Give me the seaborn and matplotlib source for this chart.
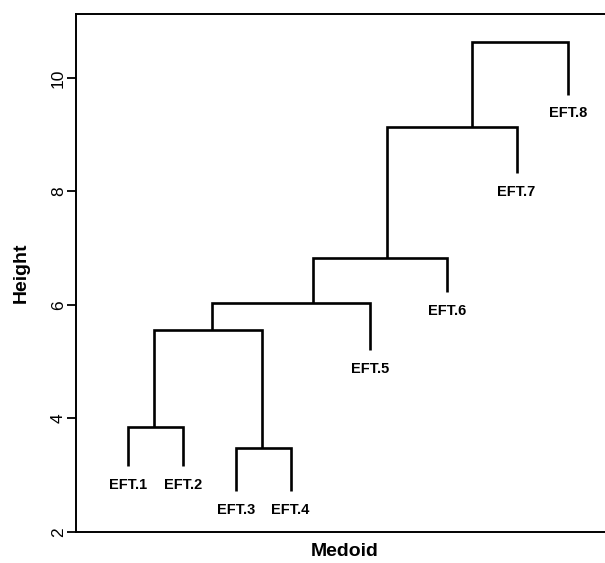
import numpy as np
import pandas as pd
import matplotlib
matplotlib.use("Agg")
from matplotlib import pyplot as plt
import seaborn as sns

# leaves (left to right) and where their hanging lines end
leaves = ["EFT.1", "EFT.2", "EFT.3", "EFT.4", "EFT.5", "EFT.6", "EFT.7", "EFT.8"]
leaf_pos = [1.00, 1.99, 2.96, 3.95, 5.39, 6.80, 8.06, 9.00]
leaf_end = [3.16, 3.16, 2.72, 2.72, 5.20, 6.23, 8.33, 9.71]

# merges, R hclust style: negative = leaf, positive = earlier merge
merge_a = [-1, -3, 1, 3, 4, 5, 6]
merge_b = [-2, -4, 2, -5, -6, -7, -8]
merge_height = [3.84, 3.47, 5.55, 6.03, 6.82, 9.14, 10.63]
merge_pos = [1.47, 3.44, 2.52, 4.36, 5.70, 7.24, 8.12]

ytick_vals = [2, 4, 6, 8, 10]

sns.set_style("white")
plt.rcParams["font.family"] = ["Liberation Sans", "DejaVu Sans"]
plt.rcParams["text.color"] = "black"
plt.rcParams["axes.labelcolor"] = "black"
plt.rcParams["ytick.color"] = "black"
plt.rcParams["xtick.color"] = "black"


def node(i):
    if i < 0:
        return leaf_pos[-i - 1], leaf_end[-i - 1]
    return merge_pos[i - 1], merge_height[i - 1]


rows = []
for k in range(len(merge_a)):
    xa, ya = node(merge_a[k])
    xb, yb = node(merge_b[k])
    h = merge_height[k]
    for x, y in [(xa, ya), (xa, h), (xb, h), (xb, yb)]:
        rows.append({"link": k, "x": x, "y": y})
df = pd.DataFrame(rows)

fig = plt.figure(figsize=(6.05, 5.63), dpi=100)
ax = fig.add_axes([0.1251, 0.0556, 0.8903, 0.919])

sns.lineplot(data=df, x="x", y="y", units="link", estimator=None, sort=False,
             color="black", lw=1.9, solid_joinstyle="miter",
             solid_capstyle="butt", ax=ax)

for name, x, y in zip(leaves, leaf_pos, leaf_end):
    ax.annotate(name, (x, y), xytext=(0, -13.5), textcoords="offset points",
                ha="center", va="center", fontsize=10.5, fontweight="bold",
                color="black")

ax.set_xlim(0.044, 9.836)
ax.set_ylim(2, 11.125)
ax.set_xticks([])
ax.set_yticks(ytick_vals, [str(v) for v in ytick_vals], rotation=90, va="center")
ax.tick_params(axis="y", left=True, length=6.5, width=1.3, pad=0.5,
               labelsize=12.5, color="black", labelcolor="black")
for s in ax.spines.values():
    s.set_visible(True)
    s.set_color("black")
    s.set_linewidth(1.4)

ax.set_xlabel("Medoid", fontsize=14, fontweight="bold", labelpad=8)
ax.set_ylabel("Height", fontsize=14, fontweight="bold", labelpad=15)

fig.savefig("out.png", dpi=100)
